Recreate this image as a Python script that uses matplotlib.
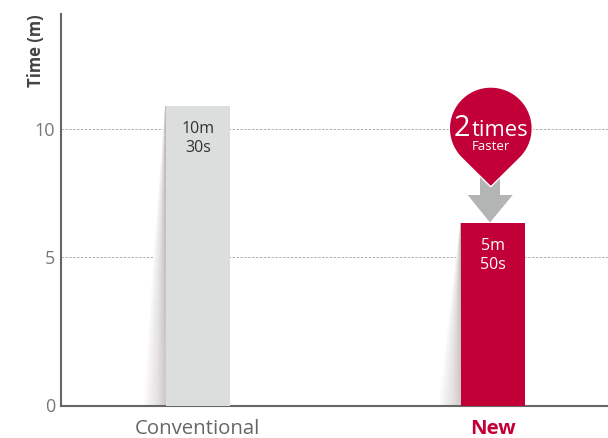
import numpy as np
import matplotlib
matplotlib.use("Agg")
import matplotlib.pyplot as plt
from matplotlib.colors import LinearSegmentedColormap
from matplotlib.patches import PathPatch, Polygon
from matplotlib.path import Path

categories = ["Conventional", "New"]
times = [10.88, 6.31]
bar_texts = ["10m\n30s", "5m\n50s"]
text_levels = [9.63, 5.08]
bar_colors = ["#dcdddd", "#c20037"]
text_colors = ["#333333", "#ffffff"]
yticks = [0, 5, 10]

W, H = 608, 438
RED = "#c20037"
GREY = "#b3b5b4"
FONT = "Open Sans"

plt.rcParams["font.family"] = [FONT, "DejaVu Sans"]


# the axis in the picture is not even: 0-5 is taller than 5-10
def forward(v):
    v = np.asarray(v, dtype=float)
    return np.where(v < 5, v * 29.6, 148 + (v - 5) * 25.6)


def inverse(p):
    p = np.asarray(p, dtype=float)
    return np.where(p < 148, p / 29.6, 5 + (p - 148) / 25.6)


fig = plt.figure(figsize=(W / 100, H / 100), dpi=100)
ax = fig.add_axes([60.5 / W, 1 - 405.5 / H, (W - 60.5) / W, 391.5 / H])
ax.set_yscale("function", functions=(forward, inverse))
ax.set_ylim(0, 14.47)
ax.set_xlim(-0.465, 1.389)

bar_width = 0.2166
ax.bar(range(2), times, width=bar_width, color=bar_colors, zorder=3)

# soft shadow leaning out of each bar
shadow = LinearSegmentedColormap.from_list("shadow", ["#ffffff", "#e6e3e2", "#bdb8b7"])
for i, top in enumerate(times):
    left = i - bar_width / 2
    u = np.linspace(0, 1, 30)
    v = np.linspace(0, 1, 40)
    uu, vv = np.meshgrid(u, v)
    xx = left - (1 - uu) * (1 - vv) * 0.075
    yy = vv * top
    ax.pcolormesh(xx, yy, uu**0.9 * (0.78 + 0.22 * vv), cmap=shadow, vmin=0, vmax=1,
                  shading="gouraud", zorder=2)

for i in range(2):
    ax.text(i, text_levels[i], bar_texts[i], color=text_colors[i], ha="center", va="center",
            fontsize=11.5, linespacing=1.25, zorder=4)

ax.set_yticks(yticks)
ax.set_xticks(range(2))
ax.set_xticklabels(categories, fontsize=14.7)
ax.tick_params(length=0)
ax.tick_params(axis="y", labelsize=13, labelcolor="#777777", pad=4)
ax.tick_params(axis="x", pad=10)
labels = ax.get_xticklabels()
labels[0].set_color("#666666")
labels[1].set_color(RED)
labels[1].set_fontweight("bold")

ax.yaxis.grid(True, color="#b0b0b0", lw=0.7, ls=(0, (2.5, 1.5)), zorder=1)
ax.set_axisbelow(True)
for side in ["top", "right"]:
    ax.spines[side].set_visible(False)
for side in ["left", "bottom"]:
    ax.spines[side].set_color("#666666")
    ax.spines[side].set_linewidth(1.5)

# overlay in pixel coordinates for the callout
over = fig.add_axes([0, 0, 1, 1], facecolor="none")
over.set_xlim(0, W)
over.set_ylim(H, 0)
over.axis("off")

over.text(36, 51, "Time (m)", rotation=90, ha="center", va="center", fontsize=12,
          fontweight="bold", color="#444444")

over.add_patch(Polygon([(480, 175), (500, 175), (500, 195), (512.7, 195), (490, 222.5),
                        (467.7, 195), (480, 195)], closed=True, fc=GREY, ec="none", zorder=2))

cx, cy, r, tip = 490.8, 128.5, 41.5, 186.8
d = tip - cy
angle = np.arccos(r / d)
theta = np.linspace(np.pi / 2 + angle, np.pi * 2.5 - angle, 80)
pin_x = np.r_[cx, cx + r * np.cos(theta), cx]
pin_y = np.r_[tip, cy + r * np.sin(theta), tip]
over.add_patch(PathPatch(Path(np.c_[pin_x, pin_y]), fc=RED, ec="white", lw=1, zorder=3))

over.text(453.5, 136.5, "2", color="white", fontsize=21, ha="left", va="baseline", zorder=4)
over.text(472, 136.5, "times", color="white", fontsize=15.8, ha="left", va="baseline", zorder=4)
over.text(490.5, 150.5, "Faster", color="white", fontsize=9.5, ha="center", va="baseline", zorder=4)

fig.savefig("out.png", dpi=100)
